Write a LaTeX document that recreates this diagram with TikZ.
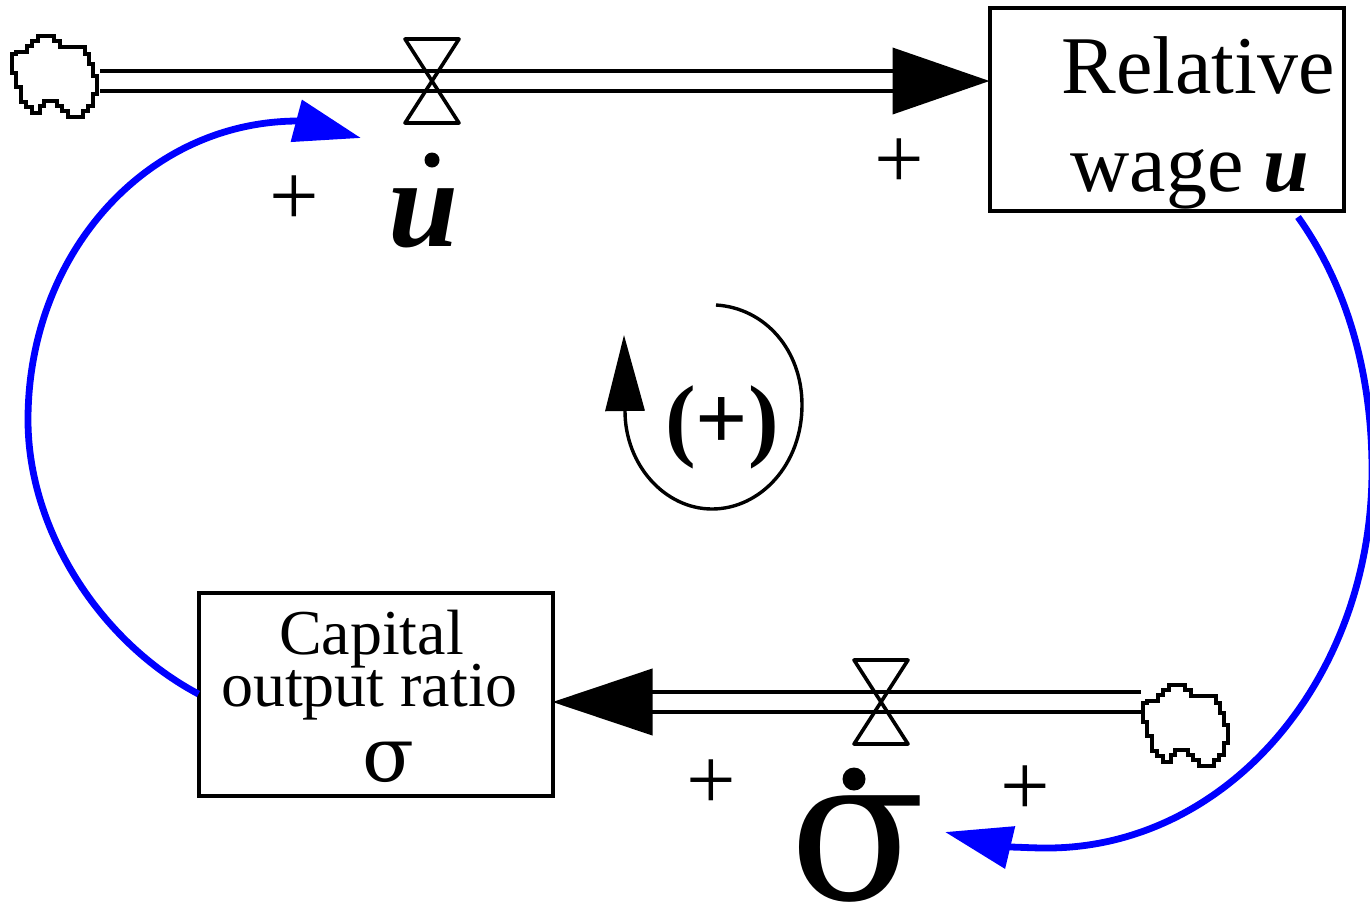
\documentclass[tikz,border=0pt]{standalone}
\usepackage{fontspec}
\setmainfont{Liberation Serif}
\newfontfamily\sigmafont{DejaVu Serif}
\usetikzlibrary{arrows.meta,positioning}
\lineskiplimit=-100pt

\begin{document}
\begin{tikzpicture}[
  x=0.5pt, y=-0.5pt,
  stock/.style={
    rectangle, draw=black, line width=2pt, align=center, inner sep=0pt, outer sep=0pt,
    minimum width=177pt, minimum height=101.5pt
  },
  pipe/.style={
    draw=black, line width=2pt, double=white, double distance=8.3pt,
    -{Triangle[length=#1, width=33pt]}
  },
  link/.style={
    draw=blue, line width=3.4pt,
    -{Triangle[length=33.5pt, width=21pt]}
  },
  sign/.style={font=\fontsize{44}{44}\selectfont, inner sep=0pt},
  rate/.style={inner sep=0pt},
  ratedot/.style={circle, fill=black, inner sep=0pt},
  valve/.pic={
    \draw[line width=1.8pt, line join=round]
      (-27,-42) -- (27,-42) -- (-27,42) -- (27,42) -- cycle;
  },
  cloud/.pic={
    \draw[line width=2pt, line join=miter]
      (85,-9) -- (85,9) -- (81,9) -- (81,21) -- (76,21) -- (76,26) -- (71,26)
      -- (71,32) -- (56,32) -- (56,26) -- (50,26) -- (50,21) -- (45,21)
      -- (45,16) -- (32,16) -- (32,21) -- (28,21) -- (28,28) -- (20,28)
      -- (20,22) -- (14,22) -- (14,17) -- (9,17) -- (9,2) -- (4,2) -- (4,-12)
      -- (0,-12) -- (0,-31) -- (4,-31) -- (4,-33) -- (15,-33) -- (15,-39)
      -- (20,-39) -- (20,-44) -- (26,-44) -- (26,-49) -- (42,-49) -- (42,-44)
      -- (48,-44) -- (48,-38) -- (73,-38) -- (73,-31) -- (77,-31) -- (77,-21)
      -- (81,-21) -- (81,-9) -- cycle;
  },
]
\useasboundingbox (0,0) rectangle (1370,906);

%% Stocks
\node[stock, font=\fontsize{41}{49}\selectfont] (wage) at (1166.5,109.5)
  {\rule{0pt}{41.7pt}\hspace*{31.5pt}Relative\\
   \hspace*{23.5pt}wage \textbf{\textit{u}}};
\node[stock, font=\fontsize{32}{26}\selectfont] (ratio) at (375.5,694)
  {\rule{0pt}{24.5pt}Capital\rule{4pt}{0pt}\\
   output ratio\rule{6pt}{0pt}\\[11.5pt]
   \hspace*{13pt}{\sigmafont\fontsize{38}{26}\selectfont σ}};

%% Clouds
\pic at (12,85) {cloud};
\pic at (1143,734) {cloud};
\coordinate (sourceU) at (100,81);
\coordinate (sourceS) at (1141,702);

%% Flows
\draw[pipe=48.5pt] (sourceU) -- (wage.west |- sourceU);
\draw[pipe=50pt] (sourceS) -- (ratio.east |- sourceS);

%% Valves
\pic at (432,81) {valve};
\pic at (881,702) {valve};

%% Rates
\node[rate, font=\fontsize{63}{63}\selectfont\bfseries\itshape] (rateU) at (424,218) {u};
\node[ratedot, minimum size=7.5pt] (dotU) at (432,160) {};
\node[rate, font=\sigmafont\fontsize{100}{100}\selectfont] (rateS) at (858,849) {σ};
\node[ratedot, minimum size=11.5pt] (dotS) at (854,779) {};

%% Causal links
\coordinate (wageOut) at (1298,217);
\coordinate (tipU) at (361,138);
\coordinate (tipS) at (945,832);
\draw[link] (ratio.west) .. controls (100,642) and (28,530) .. (28,420)
  .. controls (28,255) and (145,122) .. (297,121) -- (tipU);
\draw[link] (wageOut) .. controls (1350,290) and (1372,380) .. (1372,470)
  .. controls (1372,679) and (1227,848) .. (1047,848)
  .. controls (1030,848) and (1018,847) .. (1008,847) -- (tipS);

%% Signs
\node[sign] (signA) at (294,201) {+};
\node[sign] (signB) at (899,164) {+};
\node[sign] (signC) at (711,785) {+};
\node[sign] (signD) at (1025,791) {+};

%% Loop
\node[font=\fontsize{46}{46}\selectfont\bfseries, inner sep=0pt] (loop) at (722,427) {(+)};
\coordinate (loopStart) at (716,305);
\coordinate (loopEnd) at (624,335);
\draw[line width=1.7pt, -{Triangle[length=38pt, width=19.5pt]}] (loopStart)
  .. controls (765,308) and (802,350) .. (802,405)
  .. controls (802,465) and (760,509) .. (712,509)
  .. controls (665,509) and (625,465) .. (625,411) -- (loopEnd);

\end{tikzpicture}
\end{document}
